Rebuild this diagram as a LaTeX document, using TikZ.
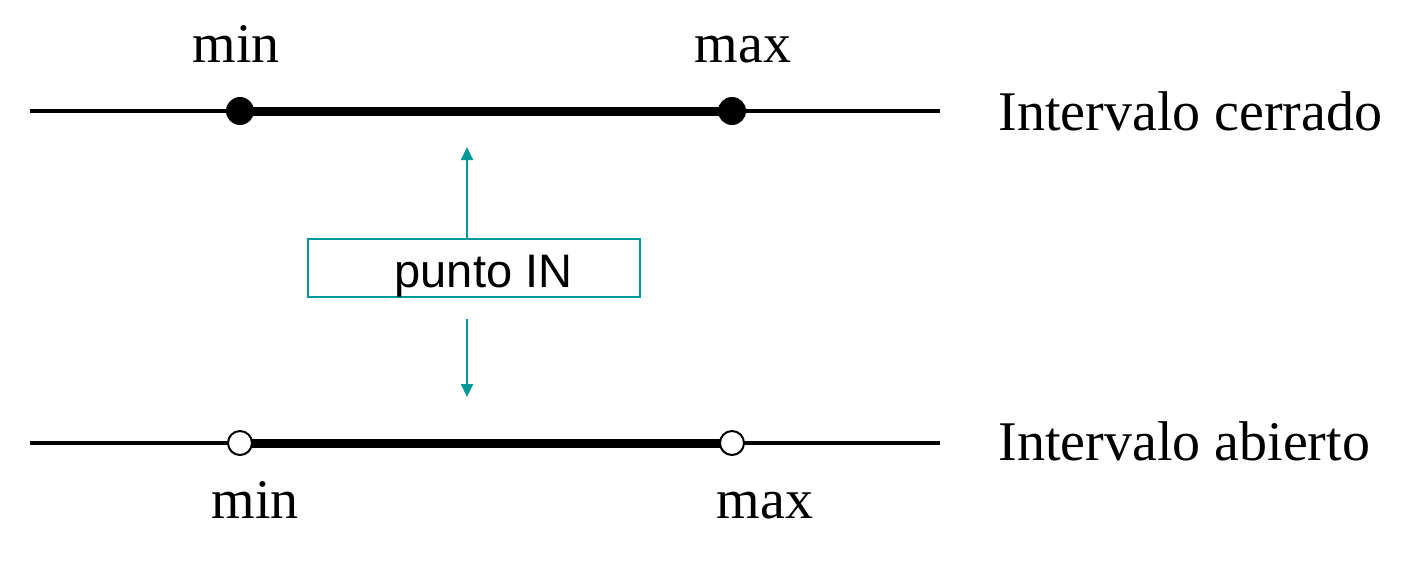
\documentclass[tikz,border=0pt]{standalone}
\usepackage{fontspec}
\setmainfont{Liberation Serif}
\newfontfamily\boxfont{Liberation Sans}
\usetikzlibrary{arrows.meta}
\definecolor{tealin}{RGB}{0,153,153}
\newcommand{\lblsize}{\fontsize{28pt}{32pt}\selectfont}
\newcommand{\boxsize}{\fontsize{23.5pt}{26pt}\selectfont}

\begin{document}
\begin{tikzpicture}[x=0.5pt, y=-0.5pt,
    dot/.style={circle, fill=black, inner sep=0pt, minimum size=14pt},
    hole/.style={circle, draw=black, line width=1pt, fill=white, inner sep=0pt, minimum size=12pt},
    lbl/.style={anchor=base, inner sep=0pt, font=\lblsize},
    inarrow/.style={draw=tealin, line width=1pt, -{Triangle[width=6pt,length=6.5pt]}}]

    \useasboundingbox (0, 0) rectangle (1416, 564);

    % closed interval
    \coordinate (ca) at (30, 111);
    \coordinate (cb) at (940, 111);
    \coordinate (cmin) at (240, 111);
    \coordinate (cmax) at (732, 111);
    \draw[line width=2pt] (ca) -- (cb);
    \draw[line width=4.5pt] (cmin) -- (cmax);
    \node[dot] (dmin) at (cmin) {};
    \node[dot] (dmax) at (cmax) {};
    \node[lbl] (lmin) at (236, 62) {min};
    \node[lbl] (lmax) at (743, 62) {max};
    \node[lbl, anchor=base west] (lclosed) at (998, 130) {Intervalo cerrado};

    % open interval
    \coordinate (oa) at (30, 443);
    \coordinate (ob) at (940, 443);
    \coordinate (omin) at (240, 443);
    \coordinate (omax) at (732, 443);
    \draw[line width=2pt] (oa) -- (ob);
    \draw[line width=4.5pt] (omin) -- (omax);
    \node[hole] (hmin) at (omin) {};
    \node[hole] (hmax) at (omax) {};
    \node[lbl] (bmin) at (255, 518) {min};
    \node[lbl] (bmax) at (765, 518) {max};
    \node[lbl, anchor=base west] (lopen) at (998, 460) {Intervalo abierto};

    % punto IN
    \node[draw=tealin, line width=1pt, minimum width=166pt, minimum height=29pt,
          inner sep=0pt, font=\boxfont\boxsize] (inbox) at (473.5, 268) {\hspace*{10pt}\raisebox{-9.5pt}[0pt][0pt]{punto IN}};
    \coordinate (uptip) at (467, 147);
    \coordinate (dntail) at (467, 319);
    \coordinate (dntip) at (467, 397);
    \draw[inarrow] (inbox.north -| uptip) -- (uptip);
    \draw[inarrow] (dntail) -- (dntip);

\end{tikzpicture}
\end{document}
